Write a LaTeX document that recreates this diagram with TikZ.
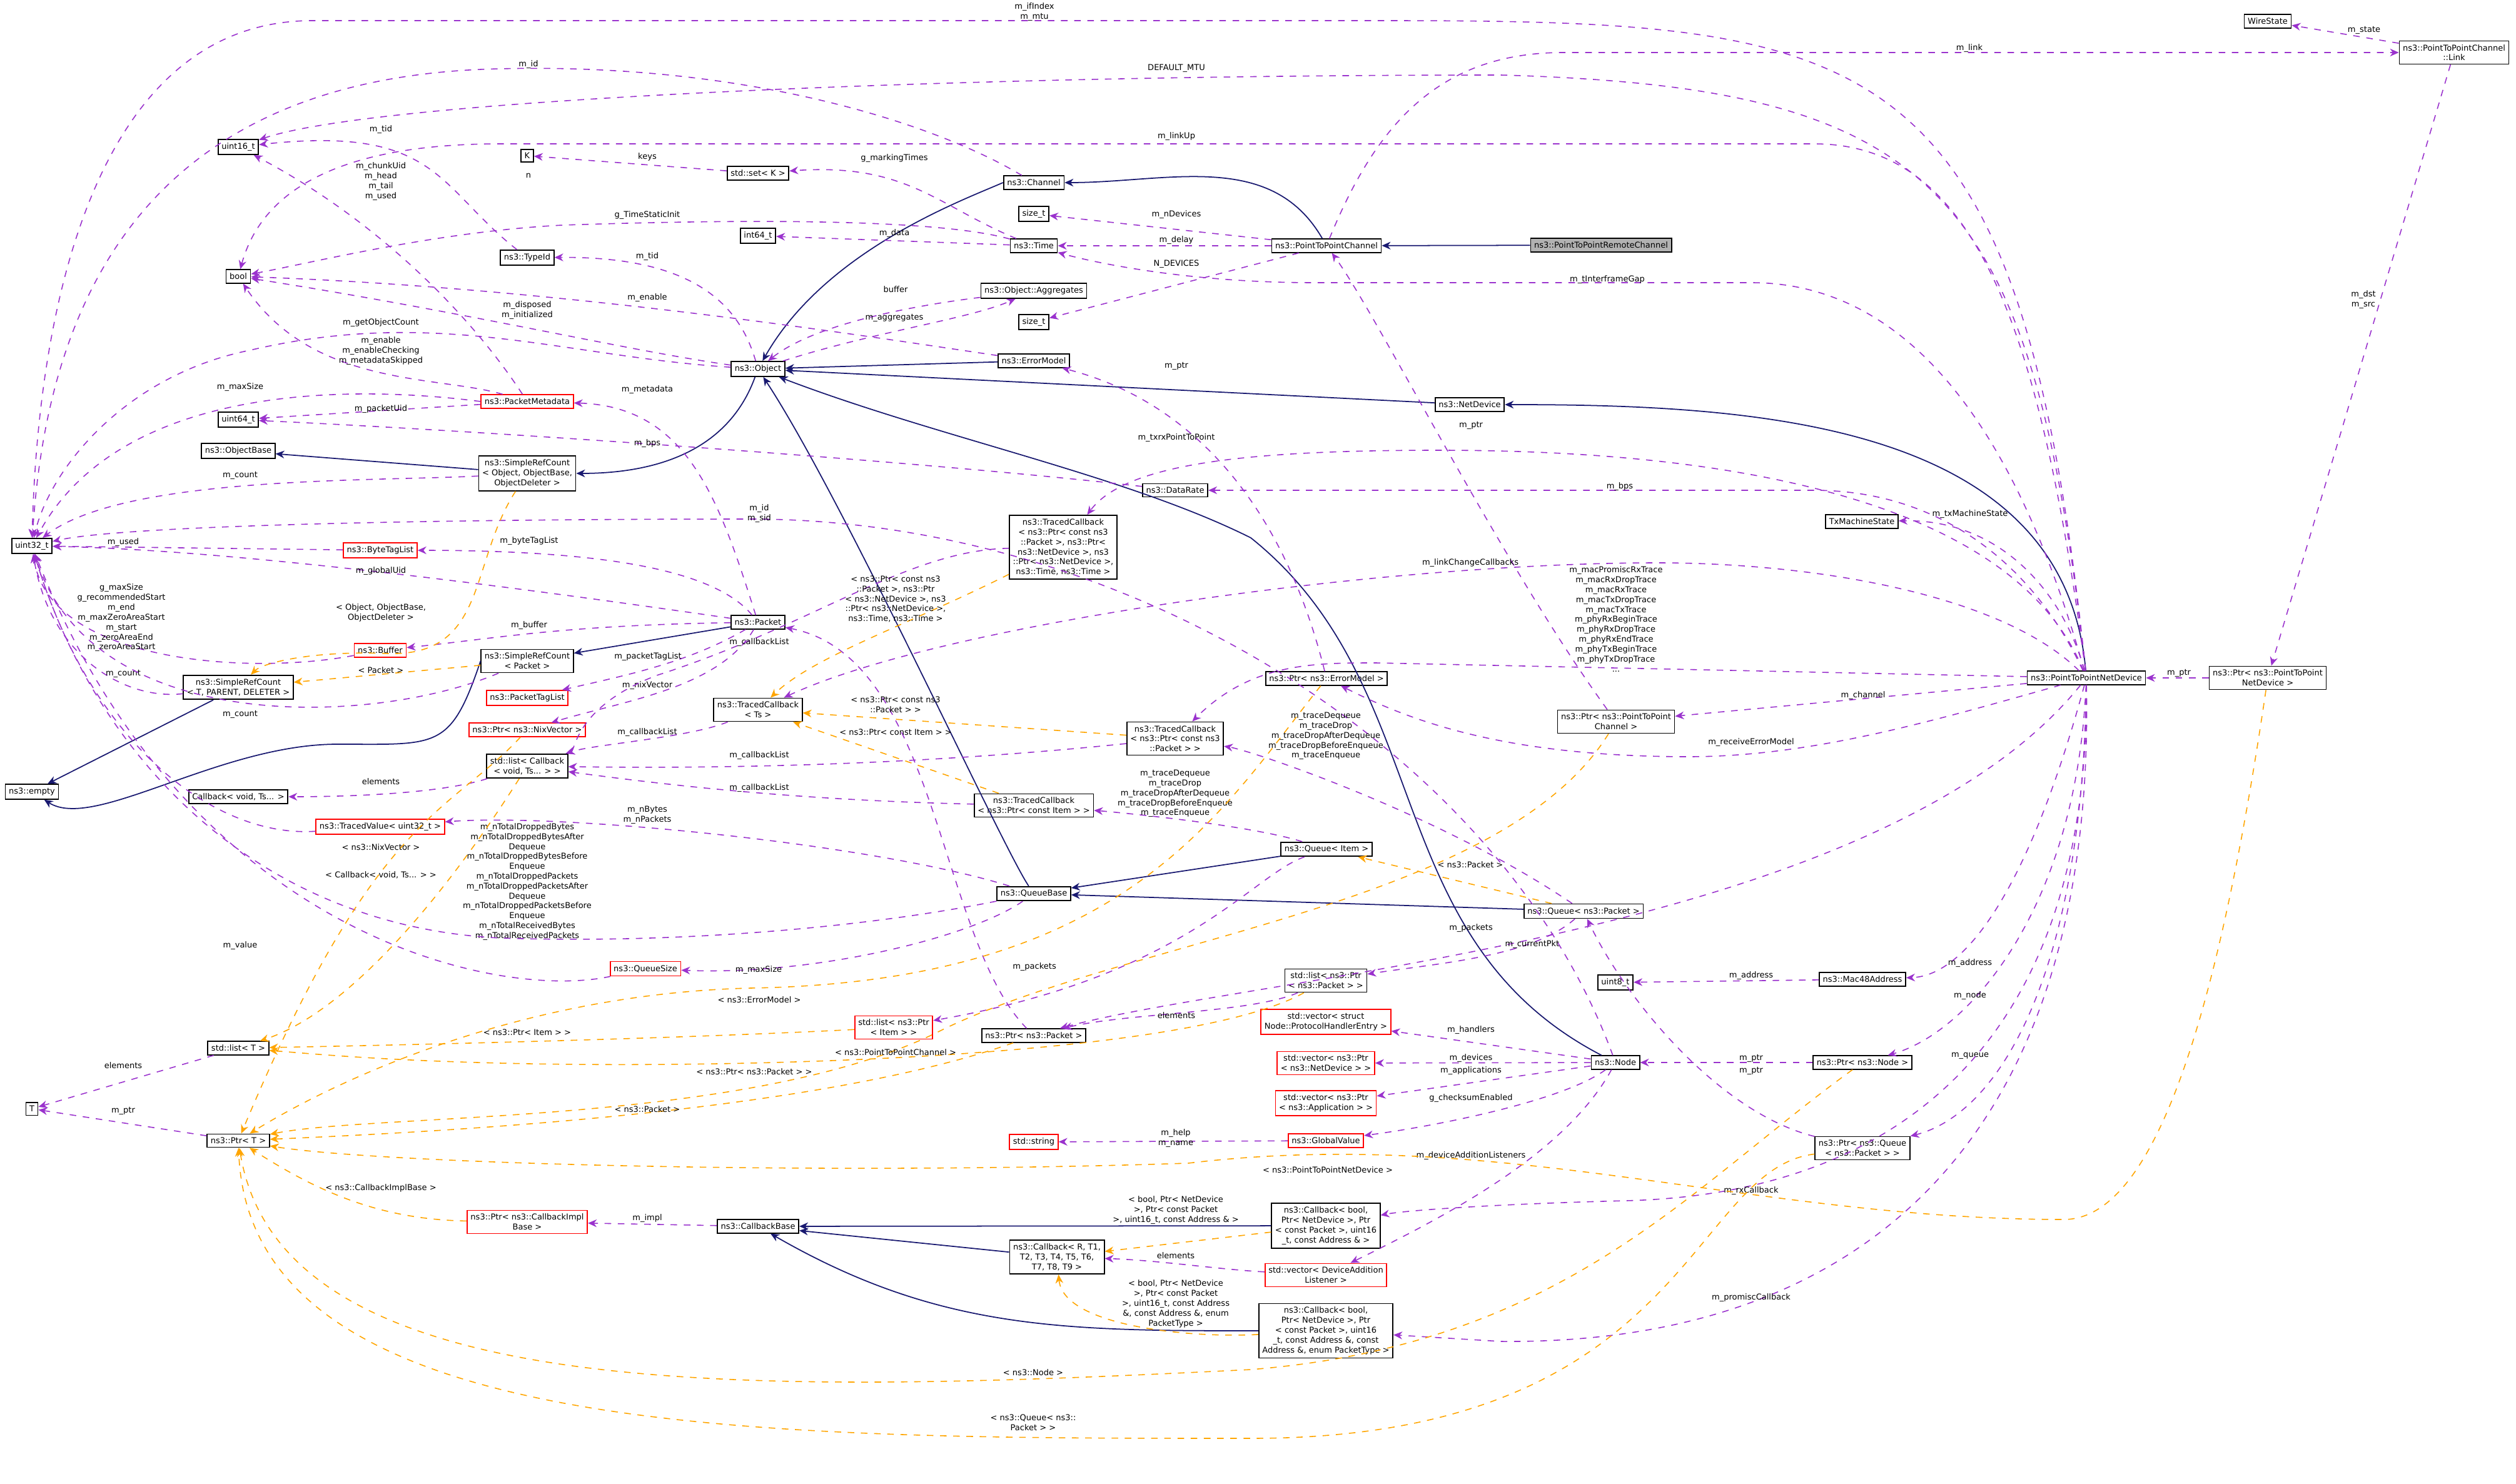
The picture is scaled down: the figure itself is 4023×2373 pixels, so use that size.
\documentclass[tikz,border=0pt]{standalone}
\usepackage{fontspec}
\setmainfont{DejaVu Sans}
\usetikzlibrary{arrows.meta}
\definecolor{inhc}{HTML}{191970}
\definecolor{memc}{HTML}{9A32CD}
\definecolor{tmpc}{HTML}{FFA500}
\begin{document}
\begin{tikzpicture}[x=0.01cm,y=-0.01cm,
  every node/.style={font=\fontsize{3.7}{4.5}\selectfont},
  cls/.style={draw=black,fill=white,inner sep=1.6pt,align=center,line width=0.5pt},
  rcls/.style={cls,draw=red},
  gcls/.style={cls,fill=black!30},
  lbl/.style={align=center,inner sep=0pt},
  inh/.style={draw=inhc,line width=0.5pt,-{Stealth[length=4pt,width=3.5pt]}},
  mem/.style={draw=memc,dashed,line width=0.45pt,-{Stealth[length=4pt,width=3.5pt]}},
  tmp/.style={draw=tmpc,dashed,line width=0.45pt,-{Stealth[length=4pt,width=3.5pt]}}]
\useasboundingbox (0,0) rectangle (4023,2373);
% ---------- nodes
\node[gcls] (rc) at (2560,392) {ns3::PointToPointRemoteChannel};
\node[cls] (p2pc) at (2121,393) {ns3::PointToPointChannel};
\node[cls] (chan) at (1653,292) {ns3::Channel};
\node[cls] (szt1) at (1653,342) {size\_t};
\node[cls] (time) at (1653,393) {ns3::Time};
\node[cls] (i64) at (1212,377) {int64\_t};
\node[cls] (set) at (1212,277) {std::set< K >};
\node[cls] (K) at (843,249) {K};
\node[cls] (u16) at (381,235) {uint16\_t};
\node[cls] (bool) at (381,442) {bool};
\node[cls] (tid) at (843,412) {ns3::TypeId};
\node[cls] (agg) at (1653,465) {ns3::Object::Aggregates};
\node[cls] (szt2) at (1653,515) {size\_t};
\node[cls] (obj) at (1212,590) {ns3::Object};
\node[cls] (em) at (1653,577) {ns3::ErrorModel};
\node[rcls] (pm) at (843,642) {ns3::PacketMetadata};
\node[cls] (u64) at (381,671) {uint64\_t};
\node[cls] (nd) at (2350,647) {ns3::NetDevice};
\node[cls] (objbase) at (381,721) {ns3::ObjectBase};
\node[cls] (srco) at (843,757) {ns3::SimpleRefCount\\< Object, ObjectBase,\\ ObjectDeleter >};
\node[cls] (dr) at (1879,784) {ns3::DataRate};
\node[cls] (u32) at (51,873) {uint32\_t};
\node[rcls] (btl) at (608,880) {ns3::ByteTagList};
\node[cls] (tc6) at (1700,875) {ns3::TracedCallback\\< ns3::Ptr< const ns3\\::Packet >, ns3::Ptr<\\ ns3::NetDevice >, ns3\\::Ptr< ns3::NetDevice >,\\ ns3::Time, ns3::Time >};
\node[cls] (txms) at (2977,834) {TxMachineState};
\node[cls] (pkt) at (1212,995) {ns3::Packet};
\node[rcls] (buf) at (608,1040) {ns3::Buffer};
\node[cls] (srcp) at (843,1057) {ns3::SimpleRefCount\\< Packet >};
\node[rcls] (ptl) at (843,1116) {ns3::PacketTagList};
\node[cls] (srct) at (381,1099) {ns3::SimpleRefCount\\< T, PARENT, DELETER >};
\node[cls] (tcts) at (1212,1135) {ns3::TracedCallback\\< Ts >};
\node[cls] (pem) at (2121,1085) {ns3::Ptr< ns3::ErrorModel >};
\node[cls] (p2pnd) at (3336,1084) {ns3::PointToPointNetDevice};
\node[cls] (pp2pnd) at (3626,1084) {ns3::Ptr< ns3::PointToPoint\\NetDevice >};
\node[cls] (pp2pc) at (2584,1154) {ns3::Ptr< ns3::PointToPoint\\Channel >};
\node[rcls] (pnix) at (843,1167) {ns3::Ptr< ns3::NixVector >};
\node[cls] (tcpkt) at (1879,1181) {ns3::TracedCallback\\< ns3::Ptr< const ns3\\::Packet > >};
\node[cls] (empty) at (51,1266) {ns3::empty};
\node[cls] (lcb) at (843,1225) {std::list< Callback\\< void, Ts... > >};
\node[cls] (cbv) at (381,1274) {Callback< void, Ts... >};
\node[cls] (tcitem) at (1653,1288) {ns3::TracedCallback\\< ns3::Ptr< const Item > >};
\node[rcls] (tv) at (608,1322) {ns3::TracedValue< uint32\_t >};
\node[cls] (qi) at (2121,1358) {ns3::Queue< Item >};
\node[cls] (qb) at (1653,1429) {ns3::QueueBase};
\node[cls] (qp) at (2532,1457) {ns3::Queue< ns3::Packet >};
\node[rcls] (qs) at (1032,1549) {ns3::QueueSize};
\node[cls] (lpp) at (2120,1568) {std::list< ns3::Ptr\\< ns3::Packet > >};
\node[cls] (u8) at (2583,1571) {uint8\_t};
\node[cls] (mac) at (2978,1566) {ns3::Mac48Address};
\node[rcls] (lpi) at (1429,1643) {std::list< ns3::Ptr\\< Item > >};
\node[rcls] (vph) at (2120,1634) {std::vector< struct\\ Node::ProtocolHandlerEntry >};
\node[cls] (lt) at (381,1676) {std::list< T >};
\node[cls] (ppkt) at (1653,1656) {ns3::Ptr< ns3::Packet >};
\node[rcls] (vnd) at (2120,1700) {std::vector< ns3::Ptr\\< ns3::NetDevice > >};
\node[cls] (node) at (2583,1699) {ns3::Node};
\node[cls] (pnode) at (2978,1699) {ns3::Ptr< ns3::Node >};
\node[cls] (T) at (51,1773) {T};
\node[rcls] (vapp) at (2120,1764) {std::vector< ns3::Ptr\\< ns3::Application > >};
\node[cls] (pt) at (381,1824) {ns3::Ptr< T >};
\node[rcls] (str) at (1653,1826) {std::string};
\node[rcls] (gv) at (2120,1824) {ns3::GlobalValue};
\node[cls] (pq) at (2978,1836) {ns3::Ptr< ns3::Queue\\< ns3::Packet > >};
\node[rcls] (pcib) at (843,1954) {ns3::Ptr< ns3::CallbackImpl\\Base >};
\node[cls] (cbb) at (1212,1961) {ns3::CallbackBase};
\node[cls] (cba) at (2120,1960) {ns3::Callback< bool,\\ Ptr< NetDevice >, Ptr\\< const Packet >, uint16\\\_t, const Address \& >};
\node[cls] (cbr) at (1690,2010) {ns3::Callback< R, T1,\\ T2, T3, T4, T5, T6,\\ T7, T8, T9 >};
\node[rcls] (vdal) at (2120,2039) {std::vector< DeviceAddition\\Listener >};
\node[cls] (cbp) at (2120,2128) {ns3::Callback< bool,\\ Ptr< NetDevice >, Ptr\\< const Packet >, uint16\\\_t, const Address \&, const\\ Address \&, enum PacketType >};
\node[cls] (ws) at (3626,34) {WireState};
\node[cls] (link) at (3924,84) {ns3::PointToPointChannel\\::Link};
% ---------- inheritance
\draw[inh] (rc) -- (p2pc);
\draw[inh] (p2pc) to[out=120,in=0] (chan);
\draw[inh] (chan.west) .. controls (1540,320) and (1320,400) .. (obj);
\draw[inh] (em) -- (obj);
\draw[inh] (nd) -- (obj);
\draw[inh] (qb) .. controls (1600,1350) and (1350,800) .. (obj);
\draw[inh] (node) .. controls (2200,1500) and (2300,1100) .. (2000,860) .. controls (1800,760) and (1500,700) .. (obj);
\draw[inh] (obj) to[out=-110,in=0] (srco);
\draw[inh] (srco) -- (objbase);
\draw[inh] (p2pnd) to[out=95,in=0] (nd);
\draw[inh] (pkt) -- (srcp);
\draw[inh] (srcp.west) .. controls (720,1200) and (700,1190) .. (540,1190) .. controls (350,1190) and (150,1330) .. (empty);
\draw[inh] (srct) -- (empty);
\draw[inh] (qi) -- (qb);
\draw[inh] (qp) -- (qb);
\draw[inh] (cba) -- (cbb);
\draw[inh] (cbr) -- (cbb);
\draw[inh] (cbp) to[out=180,in=-30] (cbb);
% ---------- members
\draw[mem] (p2pnd) .. controls (3230,60) and (3000,33) .. (2200,33) -- (500,33) .. controls (150,33) and (60,500) .. (u32);
\node[lbl] (l1) at (1654,19) {m\_ifIndex\\m\_mtu};
\draw[mem] (p2pnd) .. controls (3250,300) and (3100,140) .. (2400,120) .. controls (1500,120) and (600,160) .. (u16);
\node[lbl] (l2) at (1881,109) {DEFAULT\_MTU};
\draw[mem] (p2pnd) .. controls (3260,500) and (3150,230) .. (2900,230) -- (800,230) .. controls (550,230) and (420,300) .. (bool);
\node[lbl] (l3) at (1881,218) {m\_linkUp};
\draw[mem] (chan) .. controls (1500,200) and (1200,100) .. (800,110) .. controls (300,120) and (80,400) .. (u32);
\node[lbl] (l4) at (845,103) {m\_id};
\draw[mem] (tid) .. controls (700,300) and (700,200) .. (u16);
\node[lbl] (l5) at (609,207) {m\_tid};
\draw[mem] (pm) .. controls (750,500) and (600,350) .. (u16);
\node[lbl] (l6) at (609,290) {m\_chunkUid\\m\_head\\m\_tail\\m\_used};
\draw[mem] (set) -- (K);
\node[lbl] (l7) at (1035,251) {keys};
\node[lbl] (l7b) at (845,281) {n};
\draw[mem] (time) .. controls (1500,330) and (1450,260) .. (set);
\node[lbl] (l8) at (1430,253) {g\_markingTimes};
\draw[mem] (time) .. controls (1500,350) and (1200,350) .. (900,360) .. controls (700,370) and (500,420) .. (bool);
\node[lbl] (l9) at (1035,344) {g\_TimeStaticInit};
\draw[mem] (time) -- (i64);
\node[lbl] (l10) at (1430,373) {m\_data};
\draw[mem] (p2pc) -- (szt1);
\node[lbl] (l11) at (1881,343) {m\_nDevices};
\draw[mem] (p2pc) -- (time);
\node[lbl] (l12) at (1881,384) {m\_delay};
\draw[mem] (p2pnd) .. controls (3200,600) and (3000,452) .. (2800,452) -- (2100,452) .. controls (1900,452) and (1750,420) .. (time);
\node[lbl] (l13) at (1881,422) {N\_DEVICES};
\node[lbl] (l13b) at (2570,447) {m\_tInterframeGap};
\draw[mem] (p2pc) -- (szt2);
\draw[mem] (obj) .. controls (1180,480) and (1100,410) .. (tid);
\node[lbl] (l14) at (1035,410) {m\_tid};
\draw[mem] (em) .. controls (1400,540) and (900,460) .. (bool);
\node[lbl] (l15) at (1035,476) {m\_enable};
\draw[mem] (obj) .. controls (1000,560) and (750,500) .. (bool);
\node[lbl] (l16) at (843,496) {m\_disposed\\m\_initialized};
\draw[mem] (obj) .. controls (900,570) and (700,490) .. (400,560) .. controls (200,600) and (80,750) .. (u32);
\node[lbl] (l17) at (609,516) {m\_getObjectCount};
\draw[mem] (pm) .. controls (700,600) and (500,620) .. (bool);
\node[lbl] (l18) at (609,561) {m\_enable\\m\_enableChecking\\m\_metadataSkipped};
\draw[mem] (pm.west) .. controls (600,620) and (200,600) .. (u32);
\node[lbl] (l19) at (384,619) {m\_maxSize};
\draw[mem] (pm) -- (u64);
\node[lbl] (l20) at (609,654) {m\_packetUid};
\draw[mem] (dr) .. controls (1500,740) and (800,690) .. (u64);
\node[lbl] (l21) at (1035,709) {m\_bps};
\draw[mem] (agg) .. controls (1450,490) and (1300,520) .. (obj);
\node[lbl] (l22) at (1432,463) {buffer};
\draw[mem] (obj) .. controls (1400,530) and (1550,510) .. (agg);
\node[lbl] (l23) at (1430,508) {m\_aggregates};
\draw[mem] (pem) .. controls (2050,800) and (1900,640) .. (em);
\node[lbl] (l24) at (1881,585) {m\_ptr};
\draw[mem] (pp2pc) .. controls (2400,900) and (2200,500) .. (p2pc);
\node[lbl] (l25) at (2352,680) {m\_ptr};
\draw[mem] (p2pnd) .. controls (3250,900) and (3100,784) .. (2900,784) -- (dr);
\node[lbl] (l26) at (2590,778) {m\_bps};
\draw[mem] (p2pnd) .. controls (3200,750) and (2600,720) .. (2300,720) .. controls (2000,720) and (1800,740) .. (tc6);
\node[lbl] (l27) at (1881,700) {m\_txrxPointToPoint};
\draw[mem] (pkt) .. controls (1150,800) and (1100,650) .. (pm);
\node[lbl] (l28) at (1035,623) {m\_metadata};
\draw[mem] (srco) .. controls (600,770) and (200,760) .. (u32);
\node[lbl] (l29) at (384,760) {m\_count};
\draw[mem] (node) .. controls (2400,1200) and (1800,830) .. (1200,830) .. controls (700,830) and (200,840) .. (u32);
\node[lbl] (l30) at (1214,821) {m\_id\\m\_sid};
\draw[mem] (btl) -- (u32);
\node[lbl] (l31) at (197,867) {m\_used};
\draw[mem] (pkt) .. controls (1150,920) and (1000,880) .. (btl);
\node[lbl] (l32) at (846,865) {m\_byteTagList};
\draw[mem] (pkt) .. controls (900,950) and (400,880) .. (u32);
\node[lbl] (l33) at (609,913) {m\_globalUid};
\draw[mem] (buf) .. controls (400,1080) and (80,1060) .. (u32);
\node[lbl] (l34) at (194,988) {g\_maxSize\\g\_recommendedStart\\m\_end\\m\_maxZeroAreaStart\\m\_start\\m\_zeroAreaEnd\\m\_zeroAreaStart};
\draw[mem] (pkt) .. controls (900,1000) and (800,1020) .. (buf);
\node[lbl] (l35) at (846,1000) {m\_buffer};
\draw[mem] (srct) .. controls (200,1120) and (80,1050) .. (u32);
\node[lbl] (l36) at (197,1077) {m\_count};
\draw[mem] (srcp) .. controls (600,1160) and (150,1180) .. (u32);
\node[lbl] (l37) at (384,1142) {m\_count};
\draw[mem] (pkt) .. controls (1100,1060) and (1000,1080) .. (ptl);
\node[lbl] (l38) at (1036,1050) {m\_packetTagList};
\draw[mem] (pkt) .. controls (1150,1100) and (1000,1120) .. (pnix);
\node[lbl] (l39) at (1035,1096) {m\_nixVector};
\draw[mem] (tcts) .. controls (1100,1180) and (950,1190) .. (lcb);
\node[lbl] (l40) at (1035,1171) {m\_callbackList};
\draw[mem] (tc6) .. controls (1450,880) and (1300,1000) .. (1050,1080) .. controls (920,1130) and (920,1200) .. (lcb);
\node[lbl] (l41) at (1214,1027) {m\_callbackList};
\draw[mem] (tcpkt) .. controls (1500,1220) and (1200,1230) .. (lcb);
\node[lbl] (l42) at (1214,1208) {m\_callbackList};
\draw[mem] (tcitem) .. controls (1300,1280) and (1100,1260) .. (lcb);
\node[lbl] (l43) at (1214,1260) {m\_callbackList};
\draw[mem] (lcb) .. controls (700,1270) and (550,1274) .. (cbv);
\node[lbl] (l44) at (609,1250) {elements};
\draw[mem] (p2pnd) .. controls (3200,950) and (2900,900) .. (2650,900) .. controls (2200,900) and (1500,1000) .. (tcts);
\node[lbl] (l45) at (2351,900) {m\_linkChangeCallbacks};
\draw[mem] (p2pnd) -- (2200,1060) .. controls (2100,1060) and (2000,1060) .. (tcpkt);
\node[lbl] (l46) at (2584,990) {m\_macPromiscRxTrace\\m\_macRxDropTrace\\m\_macRxTrace\\m\_macTxDropTrace\\m\_macTxTrace\\m\_phyRxBeginTrace\\m\_phyRxDropTrace\\m\_phyRxEndTrace\\m\_phyTxBeginTrace\\m\_phyTxDropTrace\\...};
\draw[mem] (p2pnd) .. controls (3100,1150) and (2900,1210) .. (2700,1210) .. controls (2400,1210) and (2250,1150) .. (pem);
\node[lbl] (l47) at (2800,1187) {m\_receiveErrorModel};
\draw[mem] (p2pnd) -- (pp2pc);
\node[lbl] (l48) at (2979,1112) {m\_channel};
\draw[mem] (p2pnd) .. controls (3300,950) and (3200,830) .. (txms);
\node[lbl] (l49) at (3150,822) {m\_txMachineState};
\draw[mem] (p2pc) .. controls (2200,200) and (2300,84) .. (2500,84) -- (link);
\node[lbl] (l50) at (3149,77) {m\_link};
\draw[mem] (link) -- (ws);
\node[lbl] (l51) at (3780,48) {m\_state};
\draw[mem] (link) -- (pp2pnd);
\node[lbl] (l52) at (3779,479) {m\_dst\\m\_src};
\draw[mem] (pp2pnd) -- (p2pnd);
\node[lbl] (l53) at (3484,1076) {m\_ptr};
\draw[mem] (qi) .. controls (2000,1320) and (1800,1300) .. (tcitem);
\node[lbl] (l54) at (1879,1269) {m\_traceDequeue\\m\_traceDrop\\m\_traceDropAfterDequeue\\m\_traceDropBeforeEnqueue\\m\_traceEnqueue};
\draw[mem] (qp) .. controls (2300,1300) and (2000,1200) .. (tcpkt);
\node[lbl] (l55) at (2120,1177) {m\_traceDequeue\\m\_traceDrop\\m\_traceDropAfterDequeue\\m\_traceDropBeforeEnqueue\\m\_traceEnqueue};
\draw[mem] (qb) .. controls (1400,1350) and (900,1300) .. (tv);
\node[lbl] (l56) at (1035,1303) {m\_nBytes\\m\_nPackets};
\draw[mem] (tv) .. controls (350,1340) and (150,1200) .. (u32);
\node[lbl] (l57) at (843,1410) {m\_nTotalDroppedBytes\\m\_nTotalDroppedBytesAfter\\Dequeue\\m\_nTotalDroppedBytesBefore\\Enqueue\\m\_nTotalDroppedPackets\\m\_nTotalDroppedPacketsAfter\\Dequeue\\m\_nTotalDroppedPacketsBefore\\Enqueue\\m\_nTotalReceivedBytes\\m\_nTotalReceivedPackets};
\draw[mem] (qb) .. controls (1400,1480) and (1100,1510) .. (800,1500) .. controls (400,1480) and (150,1200) .. (u32);
\draw[mem] (qs) .. controls (800,1600) and (300,1500) .. (u32);
\node[lbl] (l58) at (384,1512) {m\_value};
\draw[mem] (qb) .. controls (1550,1500) and (1300,1560) .. (qs);
\node[lbl] (l59) at (1213,1551) {m\_maxSize};
\draw[mem] (qi) .. controls (2000,1400) and (1900,1560) .. (lpi);
\node[lbl] (l60) at (1654,1546) {m\_packets};
\draw[mem] (qp) .. controls (2450,1530) and (2300,1540) .. (lpp);
\node[lbl] (l61) at (2352,1484) {m\_packets};
\draw[mem] (lpp) .. controls (2000,1620) and (1800,1620) .. (ppkt);
\node[lbl] (l62) at (1881,1624) {elements};
\draw[mem] (ppkt) .. controls (1500,1500) and (1500,1050) .. (pkt);
\draw[mem] (p2pnd) .. controls (3000,1500) and (2000,1560) .. (ppkt);
\node[lbl] (l63) at (2450,1510) {m\_currentPkt};
\draw[mem] (p2pnd) .. controls (3250,1400) and (3150,1560) .. (mac);
\node[lbl] (l64) at (3150,1540) {m\_address};
\draw[mem] (mac) -- (u8);
\node[lbl] (l65) at (2800,1560) {m\_address};
\draw[mem] (node) -- (vph);
\node[lbl] (l66) at (2352,1647) {m\_handlers};
\draw[mem] (node) -- (vnd);
\node[lbl] (l67) at (2352,1692) {m\_devices};
\draw[mem] (node) -- (vapp);
\node[lbl] (l68) at (2352,1712) {m\_applications};
\draw[mem] (node) .. controls (2500,1760) and (2300,1800) .. (gv);
\node[lbl] (l69) at (2352,1756) {g\_checksumEnabled};
\draw[mem] (node) .. controls (2500,1850) and (2300,1950) .. (vdal);
\node[lbl] (l70) at (2352,1848) {m\_deviceAdditionListeners};
\draw[mem] (gv) -- (str);
\node[lbl] (l71) at (1880,1820) {m\_help\\m\_name};
\draw[mem] (pnode) -- (node);
\node[lbl] (l72) at (2800,1692) {m\_ptr};
\draw[mem] (pq) .. controls (2750,1780) and (2600,1600) .. (qp);
\node[lbl] (l73) at (2800,1712) {m\_ptr};
\draw[mem] (p2pnd) .. controls (3320,1450) and (3150,1650) .. (pnode);
\node[lbl] (l74) at (3150,1592) {m\_node};
\draw[mem] (p2pnd) .. controls (3330,1550) and (3200,1780) .. (pq);
\node[lbl] (l75) at (3150,1688) {m\_queue};
\draw[mem] (p2pnd) .. controls (3340,1700) and (3000,1910) .. (2600,1920) .. controls (2400,1925) and (2250,1935) .. (cba);
\node[lbl] (l76) at (2800,1904) {m\_rxCallback};
\draw[mem] (p2pnd) .. controls (3350,1800) and (3000,2150) .. (2400,2145) -- (cbp);
\node[lbl] (l77) at (2800,2075) {m\_promiscCallback};
\draw[mem] (lt) -- (T);
\node[lbl] (l78) at (197,1704) {elements};
\draw[mem] (pt) -- (T);
\node[lbl] (l79) at (197,1776) {m\_ptr};
\draw[mem] (cbb) -- (pcib);
\node[lbl] (l80) at (1035,1948) {m\_impl};
\draw[mem] (vdal) .. controls (1950,2030) and (1850,2015) .. (cbr);
\node[lbl] (l81) at (1880,2008) {elements};
% ---------- templates
\draw[tmp] (srco) .. controls (750,900) and (780,1050) .. (620,1045) .. controls (500,1040) and (420,1060) .. (srct);
\node[lbl] (t1) at (609,980) {< Object, ObjectBase,\\ObjectDeleter >};
\draw[tmp] (srcp) -- (srct);
\node[lbl] (t2) at (609,1072) {< Packet >};
\draw[tmp] (pnix) .. controls (720,1300) and (600,1300) .. (pt);
\node[lbl] (t3) at (609,1355) {< ns3::NixVector >};
\draw[tmp] (lcb) .. controls (700,1450) and (550,1620) .. (lt);
\node[lbl] (t4) at (609,1399) {< Callback< void, Ts... > >};
\draw[tmp] (tc6) .. controls (1450,1000) and (1300,1050) .. (tcts);
\node[lbl] (t5) at (1432,958) {< ns3::Ptr< const ns3\\::Packet >, ns3::Ptr\\< ns3::NetDevice >, ns3\\::Ptr< ns3::NetDevice >,\\ns3::Time, ns3::Time >};
\draw[tmp] (tcpkt) -- (tcts);
\node[lbl] (t6) at (1432,1127) {< ns3::Ptr< const ns3\\::Packet > >};
\draw[tmp] (tcitem) -- (tcts);
\node[lbl] (t7) at (1432,1171) {< ns3::Ptr< const Item > >};
\draw[tmp] (pem) .. controls (1950,1300) and (1800,1570) .. (1200,1580) .. controls (800,1590) and (500,1750) .. (pt);
\node[lbl] (t8) at (1214,1599) {< ns3::ErrorModel >};
\draw[tmp] (lpi) .. controls (1100,1660) and (700,1670) .. (lt);
\node[lbl] (t9) at (843,1651) {< ns3::Ptr< Item > >};
\draw[tmp] (lpp) .. controls (1900,1690) and (1200,1710) .. (800,1700) .. controls (600,1695) and (500,1685) .. (lt);
\node[lbl] (t10) at (1206,1714) {< ns3::Ptr< ns3::Packet > >};
\draw[tmp] (ppkt) .. controls (1300,1780) and (700,1810) .. (pt);
\node[lbl] (t11) at (1035,1774) {< ns3::Packet >};
\draw[tmp] (pp2pc) .. controls (2400,1450) and (1800,1500) .. (1500,1650) .. controls (1200,1800) and (600,1780) .. (pt);
\node[lbl] (t12) at (1432,1683) {< ns3::PointToPointChannel >};
\draw[tmp] (pcib) .. controls (600,1950) and (500,1900) .. (pt);
\node[lbl] (t13) at (609,1900) {< ns3::CallbackImplBase >};
\draw[tmp] (pp2pnd) .. controls (3550,1600) and (3450,1950) .. (3300,1950) .. controls (2800,1950) and (2400,1800) .. (1900,1860) .. controls (1300,1880) and (600,1860) .. (pt);
\node[lbl] (t14) at (2123,1871) {< ns3::PointToPointNetDevice >};
\draw[tmp] (pnode) .. controls (2700,1900) and (2500,2150) .. (2000,2190) .. controls (1200,2230) and (450,2250) .. (pt);
\node[lbl] (t15) at (1652,2195) {< ns3::Node >};
\draw[tmp] (pq) .. controls (2700,1870) and (2700,2300) .. (2000,2300) .. controls (1200,2300) and (400,2300) .. (pt);
\node[lbl] (t16) at (1652,2275) {< ns3::Queue< ns3::\\Packet > >};
\draw[tmp] (qp) -- (qi);
\node[lbl] (t17) at (2351,1383) {< ns3::Packet >};
\draw[tmp] (cba) -- (cbr);
\node[lbl] (t18) at (1880,1935) {< bool, Ptr< NetDevice\\>, Ptr< const Packet\\>, uint16\_t, const Address \& >};
\draw[tmp] (cbp) .. controls (1900,2140) and (1700,2120) .. (cbr);
\node[lbl] (t19) at (1880,2085) {< bool, Ptr< NetDevice\\>, Ptr< const Packet\\>, uint16\_t, const Address\\\&, const Address \&, enum\\PacketType >};
\end{tikzpicture}
\end{document}
